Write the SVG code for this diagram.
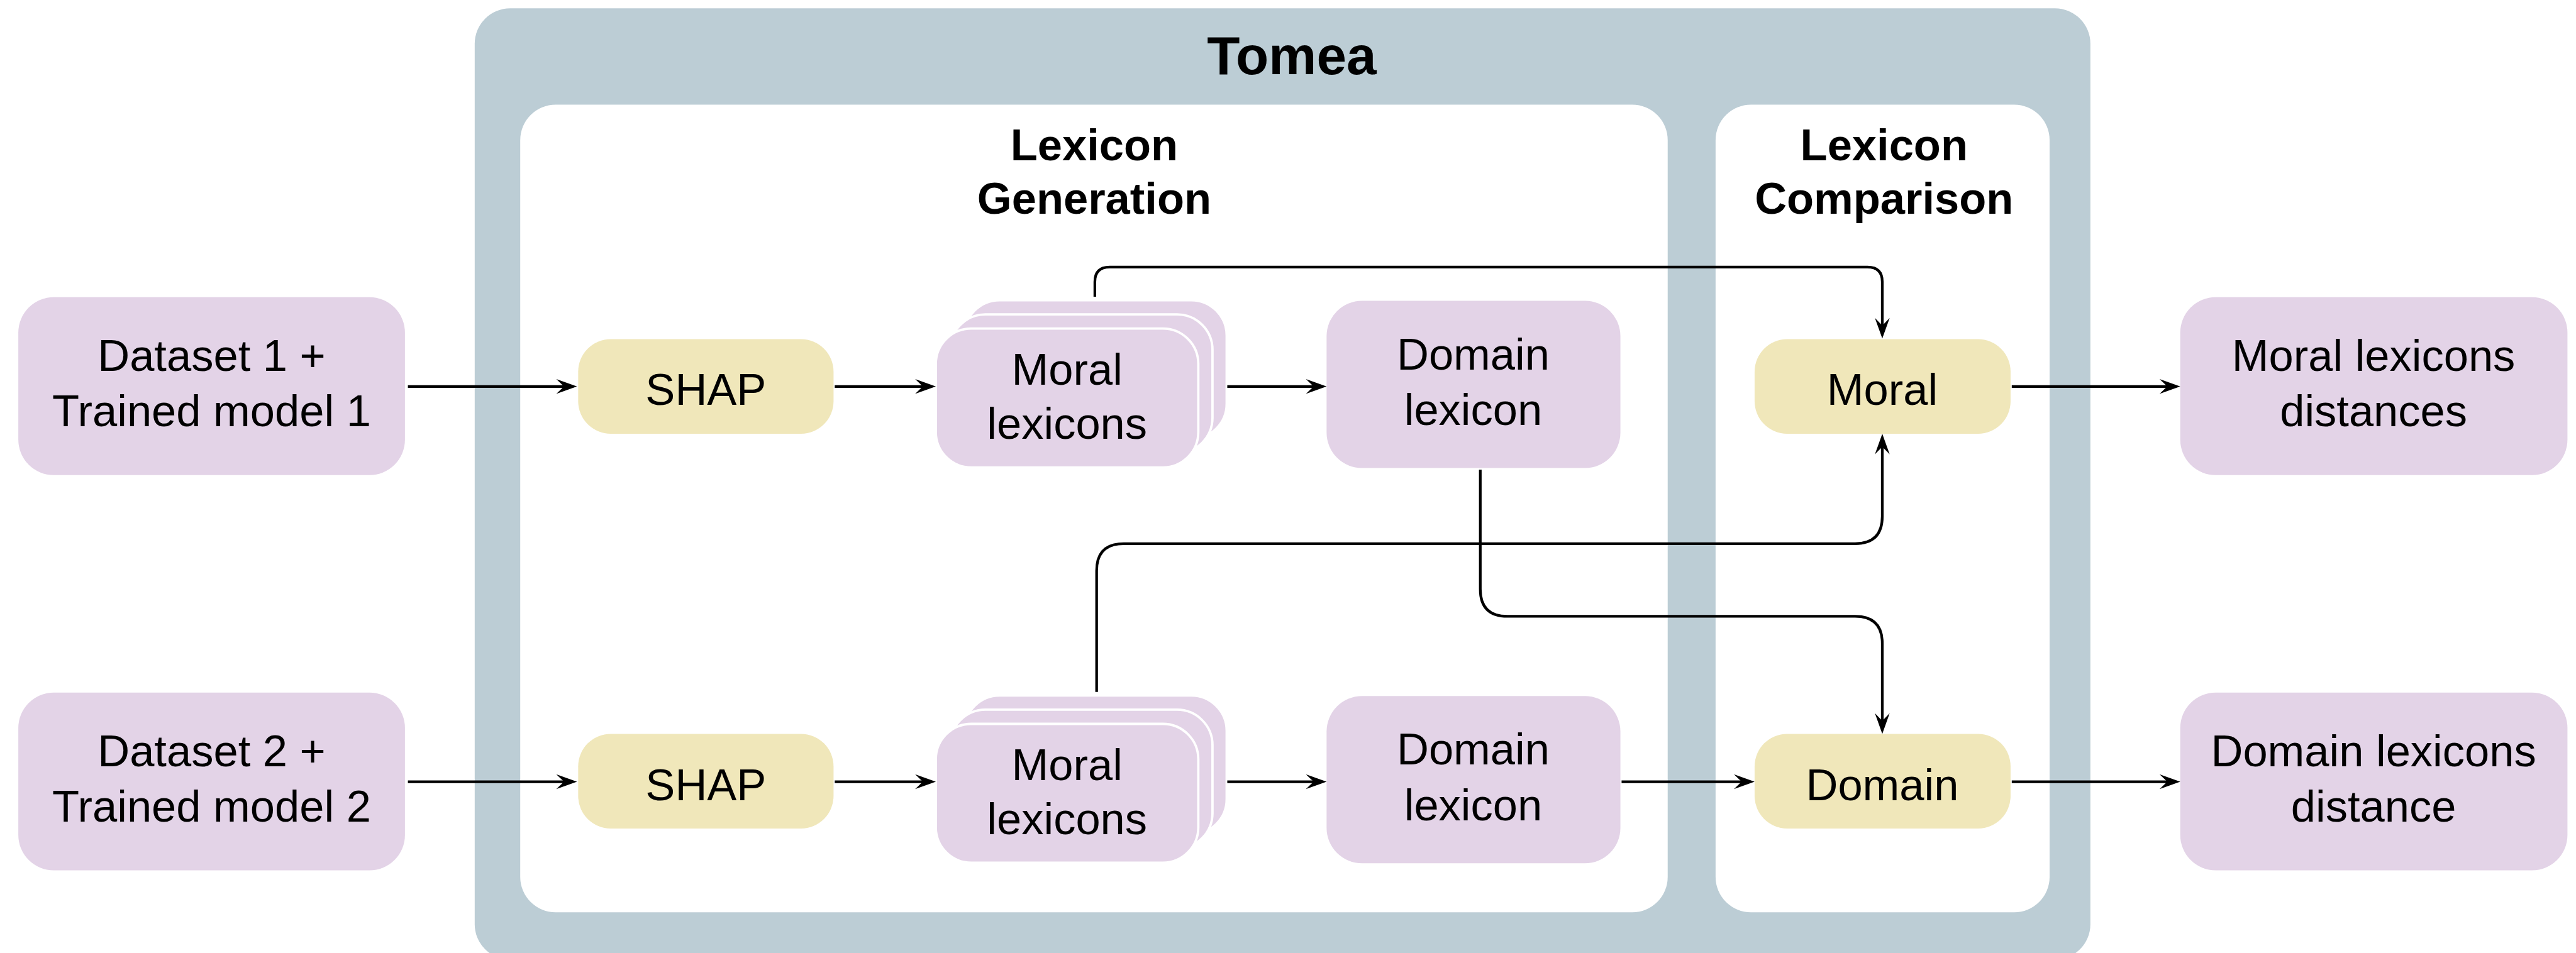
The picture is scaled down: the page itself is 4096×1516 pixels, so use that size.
<svg xmlns="http://www.w3.org/2000/svg" width="4096" height="1516" viewBox="0 0 4096 1516">
<defs>
<style>
.t{font-family:"Liberation Sans",Arial,sans-serif;font-size:75px;fill:#000;text-anchor:middle}
.b{font-weight:bold}
.big{font-size:91px}
.p{fill:#E3D3E7}
.y{fill:#F0E7BA}
.s{fill:#E3D3E7;stroke:#fff;stroke-width:4}
.c{fill:none;stroke:#000;stroke-width:4.5}
</style>
<marker id="ah" markerUnits="userSpaceOnUse" viewBox="-60 -15 64 30" markerWidth="64" markerHeight="30" refX="-20" refY="0" orient="auto">
<path d="M0,0 L-35,-12.5 L-22,0 L-35,12.5 Z" fill="#000"/>
</marker>
</defs>
<rect width="4096" height="1516" fill="#fff"/>
<g transform="scale(0.94)">
<g id="tomea">
<rect x="803" y="14" width="2733" height="1610" rx="60" fill="#BCCDD5"/>
<text class="t b big" x="2185" y="126">Tomea</text>
</g>
<g id="lexicon-generation">
<rect x="880" y="177" width="1941" height="1367" rx="60" fill="#fff"/>
<text class="t b" x="1851" y="271">Lexicon</text>
<text class="t b" x="1851" y="362">Generation</text>
</g>
<g id="lexicon-comparison">
<rect x="2902" y="177" width="565" height="1367" rx="60" fill="#fff"/>
<text class="t b" x="3187" y="271">Lexicon</text>
<text class="t b" x="3187" y="362">Comparison</text>
</g>
<g id="dataset1">
<rect class="p" x="31" y="503" width="654" height="301" rx="60"/>
<text class="t" x="358" y="628">Dataset 1 +</text>
<text class="t" x="358" y="721">Trained model 1</text>
</g>
<g id="dataset2">
<rect class="p" x="31" y="1172" width="654" height="301" rx="60"/>
<text class="t" x="358" y="1297">Dataset 2 +</text>
<text class="t" x="358" y="1390">Trained model 2</text>
</g>
<g id="shap1">
<rect class="y" x="978" y="574" width="432" height="160" rx="55"/>
<text class="t" x="1194" y="685">SHAP</text>
</g>
<g id="shap2">
<rect class="y" x="978" y="1242" width="432" height="160" rx="55"/>
<text class="t" x="1194" y="1354">SHAP</text>
</g>
<g id="moral-lexicons1">
<rect class="s" x="1631" y="508" width="444" height="235" rx="60"/>
<rect class="s" x="1607" y="532" width="444" height="235" rx="60"/>
<rect class="s" x="1583" y="556" width="444" height="235" rx="60"/>
<text class="t" x="1805" y="651">Moral</text>
<text class="t" x="1805" y="743">lexicons</text>
</g>
<g id="moral-lexicons2">
<rect class="s" x="1631" y="1177" width="444" height="235" rx="60"/>
<rect class="s" x="1607" y="1201" width="444" height="235" rx="60"/>
<rect class="s" x="1583" y="1225" width="444" height="235" rx="60"/>
<text class="t" x="1805" y="1320">Moral</text>
<text class="t" x="1805" y="1412">lexicons</text>
</g>
<g id="domain-lexicon1">
<rect class="p" x="2244" y="509" width="497" height="283" rx="60"/>
<text class="t" x="2492" y="625">Domain</text>
<text class="t" x="2492" y="719">lexicon</text>
</g>
<g id="domain-lexicon2">
<rect class="p" x="2244" y="1178" width="497" height="283" rx="60"/>
<text class="t" x="2492" y="1294">Domain</text>
<text class="t" x="2492" y="1388">lexicon</text>
</g>
<g id="moral-compare">
<rect class="y" x="2968" y="574" width="433" height="160" rx="55"/>
<text class="t" x="3184" y="685">Moral</text>
</g>
<g id="domain-compare">
<rect class="y" x="2968" y="1242" width="433" height="160" rx="55"/>
<text class="t" x="3184" y="1354">Domain</text>
</g>
<g id="moral-distances">
<rect class="p" x="3688" y="503" width="655" height="301" rx="60"/>
<text class="t" x="4015" y="628">Moral lexicons</text>
<text class="t" x="4015" y="721">distances</text>
</g>
<g id="domain-distance">
<rect class="p" x="3688" y="1172" width="655" height="301" rx="60"/>
<text class="t" x="4015" y="1297">Domain lexicons</text>
<text class="t" x="4015" y="1390">distance</text>
</g>
<g id="connectors">
<path class="c" marker-end="url(#ah)" d="M690,654 H956"/>
<path class="c" marker-end="url(#ah)" d="M1412,654 H1563"/>
<path class="c" marker-end="url(#ah)" d="M2076,654 H2224"/>
<path class="c" marker-end="url(#ah)" d="M3403,654 H3668"/>
<path class="c" marker-end="url(#ah)" d="M690,1323 H956"/>
<path class="c" marker-end="url(#ah)" d="M1412,1323 H1563"/>
<path class="c" marker-end="url(#ah)" d="M2076,1323 H2224"/>
<path class="c" marker-end="url(#ah)" d="M2743,1323 H2948"/>
<path class="c" marker-end="url(#ah)" d="M3403,1323 H3668"/>
<path class="c" marker-end="url(#ah)" d="M1852,502 V477 Q1852,452 1877,452 H3159 Q3184,452 3184,477 V553"/>
<path class="c" marker-end="url(#ah)" d="M1855,1171 V966 Q1855,920 1901,920 H3138 Q3184,920 3184,874 V754"/>
<path class="c" marker-end="url(#ah)" d="M2504,795 V997 Q2504,1043 2550,1043 H3138 Q3184,1043 3184,1089 V1222"/>
</g>
</g>
</svg>
